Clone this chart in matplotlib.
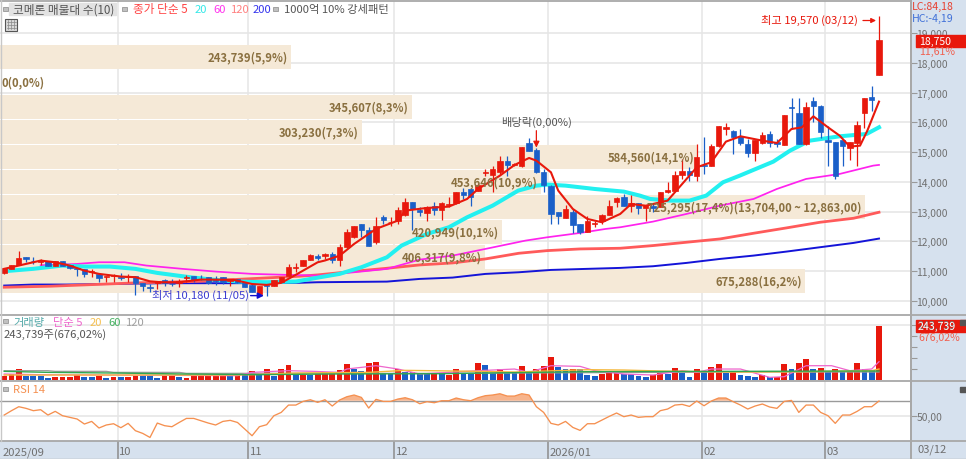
import matplotlib
matplotlib.use('Agg')
import numpy as np
import matplotlib.pyplot as plt
from matplotlib.patches import Rectangle

plt.rcParams['font.family'] = ['Noto Sans CJK KR', 'DejaVu Sans']

W, H = 966, 460

#### candles
opens = [10930,11080,11220,11470,11350,11300,11330,11190,11340,11200,
         11110,11070,10970,10910,10810,10850,10790,10810,10830,10610,
         10460,10620,10720,10580,10600,10770,10830,10750,10820,10700,
         10810,10670,10740,10590,10550,10220,10530,10500,10650,10850,
         11100,11170,11380,11500,11520,11580,11360,11800,12140,12590,
         12400,11970,12810,12640,12700,12890,13320,13040,12960,13180,
         13070,13230,13290,13650,13760,13710,14300,14230,14320,14700,
         14570,14520,15310,15080,14340,13870,12980,12800,12980,12590,
         12330,12590,12700,12890,13320,13480,13190,13280,13120,13200,
         13150,13650,13710,14240,14370,14210,14580,14550,15220,15790,
         15720,15530,15270,14960,15310,15610,15330,15240,16530,16330,
         15260,16700,16560,15390,15330,15410,15150,15310,16310,16850,
         17590]
highs = [11110,11220,11690,11470,11470,11410,11340,11340,11350,11200,
         11110,11070,11060,10910,10850,10910,10950,10910,10830,10610,
         10580,10670,10730,10740,10740,10880,10840,10860,10820,10830,
         10810,10710,10750,10600,10560,10520,10540,10690,10800,11250,
         11270,11380,11580,11580,11600,11630,11920,12420,12530,12600,
         12480,12810,12890,12810,13150,13450,13340,13150,13200,13340,
         13340,13480,13670,13790,13780,13960,14430,14520,14860,14860,
         14620,15160,15460,15130,14430,13880,13000,13220,13090,12600,
         12840,12700,12920,13400,13480,13600,13560,13290,13230,13250,
         13660,13990,14380,14770,14490,15270,15500,15270,15870,15980,
         15730,15780,15440,15390,15670,15720,15440,16250,16810,16810,
         16670,16840,16570,15890,15340,15420,15330,16030,16820,17210,
         19570]
lows = [10920,11070,11210,11300,11250,11210,11190,11190,11190,11080,
        10830,10800,10800,10650,10650,10650,10690,10650,10210,10320,
        10300,10410,10520,10500,10460,10630,10630,10690,10580,10540,
        10580,10520,10610,10470,10290,10210,10180,10490,10640,10840,
        10990,11160,11370,11360,11410,11270,11170,11790,12130,12140,
        11860,11920,12590,12530,12590,12870,12370,12870,12700,12890,
        12730,13150,13260,13440,13180,13700,14210,13650,14270,14210,
        14540,14510,15040,14300,13650,12590,12590,12790,12290,12250,
        12320,12480,12590,12880,13150,13180,12980,12920,12700,13000,
        13140,13640,13700,14100,14040,14040,14270,14540,15160,15570,
        14940,15240,14830,14710,15270,15160,15160,15230,15780,15260,
        15250,16000,15460,14550,14100,14550,14750,14550,15800,16390,
        17580]
closes = [11110,11220,11450,11410,11330,11330,11190,11340,11190,11100,
          11080,10910,11010,10760,10840,10860,10760,10830,10610,10520,
          10440,10660,10600,10570,10670,10800,10720,10740,10610,10680,
          10650,10710,10650,10470,10290,10520,10520,10690,10800,11140,
          11130,11380,11530,11450,11580,11390,11800,12310,12530,12400,
          11860,12510,12720,12660,13060,13340,13090,13000,13140,13070,
          13290,13260,13650,13560,13480,13900,14340,14430,14710,14570,
          14590,15160,15050,14340,13880,12920,12870,13090,12550,12330,
          12670,12610,12900,13180,13470,13180,13290,13110,13230,13130,
          13660,13740,14240,14360,14240,14820,14550,15220,15870,15830,
          15520,15310,14960,15390,15580,15310,15260,16230,16470,15260,
          16500,16540,15670,15350,14210,15190,15330,15910,16820,16760,
          18750]

#### moving averages, (candle, price) read at a few places
ma5_x = [0,2,5,7,9,11,13,16,18,20,21.5,24,27,31.5,34,36,38,40,43,44,46,48,49,51,54,55,58,61,
         63.5,65,68,70,72,73,75,76,78,80,82,84.5,86,88,91,93,95,97,99,101,104,106,108,109.4,
         111,113,114.6,116,117.4,118.4,120]
ma5_y = [11080,11190,11357,11300,11190,11020,10910,10820,10800,10660,10630,10630,10720,10710,
         10570,10540,10610,10880,11300,11360,11520,11916,12084,12420,12700,13035,13125,13170,
         13427,13762,14210,14568,14803,14714,14322,13707,13091,12755,12644,12923,13259,13200,
         13371,13930,14490,14660,15352,15531,15385,15307,15777,15830,16202,15833,15553,15184,
         15217,15721,16695]
ma20_x = [0,4,8,11,14.5,18,21,25.5,29,32,36,40,43.3,46,49,52.5,54.5,58,61,63.5,67,70.5,73,
          74.5,77,81,85,87.2,88.6,91.3,94,96.3,98.6,100.9,105.5,107.8,110.5,114.6,118.3,120]
ma20_y = [11000,11080,11190,11156,11156,11078,10943,10798,10708,10653,10630,10653,10797,10909,
          11133,11468,11860,12252,12476,12811,13203,13707,13874,13908,13874,13762,13673,13539,
          13427,13371,13371,13539,13987,14210,14680,15050,15385,15531,15609,15833]
ma60_x = [5,10,13,16.5,19.5,24.5,29,34,39,43.3,48,52.5,57,61.5,66,71.5,74.5,79,82.5,84.5,89,
          93.6,98.2,102.8,106,110,114.6,119.2,120]
ma60_y = [11200,11245,11301,11301,11190,11078,10988,10910,10876,10853,10965,11077,11390,11524,
          11748,12028,12140,12285,12420,12476,12666,12924,13203,13427,13763,14099,14266,14546,14570]
ma120_x = [0,6.3,11,18,22,27,31.5,36,40.5,43,48,52.5,57,61.5,66,70.6,74.5,79,84.5,89,93.6,98.2,
           102.8,107.3,111.9,116.5,120]
ma120_y = [10462,10496,10540,10608,10630,10664,10720,10775,10831,10876,10998,11099,11211,11278,
           11412,11603,11692,11748,11771,11861,11973,12084,12275,12454,12644,12778,12980]
ma200_x = [0,4,8.5,15.4,22,31,40,43,52.5,57,61.5,66,70.6,75,79.7,84.5,89,93.6,98.2,102.8,107.3,
           111.9,116.5,120]
ma200_y = [10518,10552,10552,10574,10597,10597,10608,10630,10651,10741,10786,10909,10965,11043,
           11077,11111,11167,11279,11413,11525,11659,11805,11950,12096]

#### volume profile bands
band_mid = [18210,17370,16530,15690,14850,14010,13170,12330,11490,10660]
band_vol = [243739,0,345607,303230,584560,453646,725295,420949,406317,675288]
band_labels = ['243,739(5,9%)','0(0,0%)','345,607(8,3%)','303,230(7,3%)','584,560(14,1%)',
               '453,646(10,9%)','725,295(17,4%)(13,704,00 ~ 12,863,00)','420,949(10,1%)',
               '406,317(9,8%)','675,288(16,2%)']

#### volume
volume = [19700,27300,48400,19700,19700,16700,9100,15100,15100,15100,
          22700,15100,15100,16700,10600,15100,13600,15100,19700,19700,
          19700,10600,18200,16700,12100,10600,18200,16700,16700,16700,
          16700,16700,24200,27300,40900,21200,48400,18200,48400,68100,
          22700,21200,21200,33300,36300,36300,46900,72700,51500,40900,
          75700,80200,28800,27300,48400,36300,34800,27300,27300,27300,
          27300,22700,48400,27300,27300,75700,68100,30300,50000,30300,
          30300,65100,40900,51500,65100,106000,60600,48400,51500,48400,
          24200,18200,25700,30300,33300,27300,27300,19700,15100,22700,
          36300,27300,56000,33300,15100,51500,37900,60600,72700,30300,
          42400,22700,18200,15100,22700,12100,15100,71200,51500,75700,
          96900,48400,53000,34800,48400,34800,34800,75700,50000,45400,
          243739]
vol_up = [0,1,2,7,8,9,10,13,15,17,18,22,23,25,26,27,28,29,30,32,34,36,38,39,41,43,44,45,46,47,
          50,51,54,59,61,62,65,68,71,73,74,75,78,82,83,84,89,90,92,95,97,98,100,104,106,107,
          109,110,112,114,116,117,120]
vma5_x = [0,5,32,34,39,42.5,46,47,51,54,57,65,70,72,75,79,81,85,89,93,95,97,101,105,107,110,113.5,116,119,120]
vma5_y = [27300,24200,19700,34800,42400,39400,34800,50000,65100,50000,27300,42400,50000,34800,
          65100,62100,42400,27300,22700,42400,34800,50000,50000,12100,15100,65100,65100,42400,50000,83300]
vma20_x = [0,30,34,40,50,55,65,70,80,85,90,100,110,119,120]
vma20_y = [22700,22700,24200,31800,34800,43900,39400,36300,46900,45400,40900,36300,37900,42400,50000]
vma60_x = [0,6,15,25,35,45,60,66,80,100,120]
vma60_y = [39400,34800,31800,27300,24200,27300,28800,31800,37900,39400,40900]
vma120_x = [0,6,7,14,15,24,25,40,60,80,100,120]
vma120_y = [42400,42400,39400,39400,34800,34800,30300,30300,30300,33300,36300,36300]

#### RSI
rsi = [50.9,56.7,62,59.8,56.7,58,50.9,55.8,50,47.8,45.6,38.9,42.4,33.6,37.6,39.3,34,39.8,30,26.4,
       21,40.2,36.7,35.3,41,46.4,46.4,43.3,40.2,37.6,42.4,43.8,41,32.2,23.3,35.3,38,50,54.4,64.2,
       64.2,69.1,71.3,67.8,71.3,62.9,70.9,75.3,77.6,74.4,60.2,71.8,69.1,69.1,72.2,74,71.3,66,68.7,67.3,
       70,70,73.6,71.3,70,74,76.7,77.6,79.3,76.2,76.2,79.3,77.6,62,54.4,39.8,37.6,42.4,34.4,30.4,
       39.3,39.3,44.2,49.1,53.6,48.7,50.9,47.8,48.7,48.7,56.7,58.9,64.2,65.1,62.4,69.6,63.3,69.6,73.6,73.6,
       68.7,64.2,58.9,62.9,65.6,61.6,59.8,69.1,70.4,54.4,64.2,64.2,54.4,50,39.8,50.9,50.9,55.8,62,62,
       69.6]

price_ticks = [10000,11000,12000,13000,14000,15000,16000,17000,18000,19000]
month_pos = [15.57,33.48,53.5,74.55,95.68,112.6]
month_labels = ['10','11','12','2026/01','02','03']

RED = '#E8180C'
BLUE = '#1A5FC8'
PANEL = '#D6E1EE'
GRID = '#E6E6E6'
LINE = '#A8A8A8'
TICK = '#707070'
SAND = '#F5E9D7'
SAND_TXT = '#8A7040'

fig = plt.figure(figsize=(W / 100, H / 100), dpi=100, facecolor='white')


def box(x0, y0, x1, y1):
    # pixel box of the reference -> figure fractions
    return [x0 / W, 1 - y1 / H, (x1 - x0) / W, (y1 - y0) / H]


def label(x, y, s, color='#555555', size=8.1, ha='left', **kw):
    return fig.text(x / W, 1 - y / H, s, color=color, fontsize=size, ha=ha, va='center', zorder=20, **kw)


# right and bottom panels behind everything
fig.patches.append(Rectangle((911 / W, 0), 55 / W, 1, transform=fig.transFigure, color=PANEL, zorder=-5))
fig.patches.append(Rectangle((0, 0), 1, 18 / H, transform=fig.transFigure, color=PANEL, zorder=-5))

xlim = (-0.576, 124.39)
ax = fig.add_axes(box(0, 2, 911, 315))
ax_vol = fig.add_axes(box(0, 316, 911, 381))
ax_rsi = fig.add_axes(box(0, 382, 911, 441))
ax_date = fig.add_axes(box(0, 442, 911, 460))
for a in (ax, ax_vol, ax_rsi, ax_date):
    a.set_xlim(xlim)
    a.set_xticks([])
    a.set_axisbelow(True)
    for s in a.spines.values():
        s.set_visible(False)
    a.spines['right'].set_visible(True)
    a.spines['right'].set_color(LINE)
    a.spines['right'].set_linewidth(1.3)
    for m in month_pos:
        a.axvline(m, color=GRID if a is not ax_date else '#8C8C8C', lw=1.1, zorder=0.4)

# price panel
ax.set_ylim(9563, 20075)
ax.yaxis.tick_right()
ax.set_yticks(price_ticks)
ax.set_yticklabels([f'{p:,}' for p in price_ticks], color=TICK, fontsize=7.4)
ax.tick_params(axis='y', length=4, width=0.8, color='#999999', pad=0)
for p in price_ticks:
    ax.axhline(p, color=GRID, lw=1.2, zorder=0.4)

# px per candle 7.29, 838.6 shares per px in the profile
per_candle = 838.6 * 7.29
ax.barh(band_mid, np.array(band_vol) / per_candle, height=805, left=xlim[0], color=SAND, zorder=1)
for mid, v, txt in zip(band_mid, band_vol, band_labels):
    end = xlim[0] + v / per_candle
    ax.annotate(txt, (end, mid), xytext=(-3 if v else 2, 0), textcoords='offset pixels',
                ha='right' if v else 'left', va='center', color=SAND_TXT, fontsize=8.1,
                fontweight='bold', zorder=8)

ax.plot(ma200_x, ma200_y, color='#1414D8', lw=1.4, zorder=2)
ax.plot(ma120_x, ma120_y, color='#FF5A5A', lw=2.0, zorder=2.1)
ax.plot(ma60_x, ma60_y, color='#FF22EE', lw=1.25, zorder=2.2)
ax.plot(ma20_x, ma20_y, color='#22F0F0', lw=2.9, zorder=2.3)

idx = np.arange(len(closes))
o = np.array(opens)
c = np.array(closes)
up = c >= o
col = np.where(up, RED, BLUE)
ax.vlines(idx, lows, highs, colors=col, lw=0.9, zorder=3)
ax.bar(idx, np.abs(c - o), bottom=np.minimum(o, c), width=0.74, color=col, edgecolor=col, lw=0.5, zorder=3.1)
ax.plot(ma5_x, ma5_y, color=RED, lw=1.5, zorder=4)

# high / low / ex-dividend marks
label(858, 20, '최고 19,570 (03/12)', RED, ha='right')
ax.annotate('', (119.6, 19420), xytext=(117.8, 19420), zorder=7,
            arrowprops=dict(arrowstyle='-|>', color=RED, lw=0.9, mutation_scale=7, shrinkA=0, shrinkB=0))
label(152, 295, '최저 10,180 (11/05)', '#3C3CD0')
ax.annotate('', (36, 10180), xytext=(33.8, 10180), zorder=7,
            arrowprops=dict(arrowstyle='-|>', color='#1010D0', lw=1.0, mutation_scale=9, shrinkA=0, shrinkB=2))
label(501, 122, '배당락(0,00%)', '#555555')
ax.annotate('', (73, 15150), xytext=(73, 15720), zorder=7,
            arrowprops=dict(arrowstyle='-|>', color=RED, lw=0.9, mutation_scale=9, shrinkA=0, shrinkB=0))

# volume panel
ax_vol.set_ylim(0, 296000)
ax_vol.yaxis.tick_right()
ax_vol.set_yticks([50000, 100000, 150000, 200000, 250000])
ax_vol.set_yticklabels([])
ax_vol.tick_params(axis='y', length=4, width=0.8, color='#999999')
ax_vol.axhline(250000, color=GRID, lw=1.1, zorder=0.4)
vol_col = [RED if i in vol_up else BLUE for i in idx]
ax_vol.bar(idx, volume, width=0.8, color=vol_col, zorder=2)
ax_vol.plot(vma120_x, vma120_y, color='#9A9A9A', lw=0.9, zorder=3)
ax_vol.plot(vma60_x, vma60_y, color='#2FA84F', lw=1.0, zorder=3.3)
ax_vol.plot(vma20_x, vma20_y, color='#F5B83D', lw=1.0, zorder=3.2)
ax_vol.plot(vma5_x, vma5_y, color='#EE66CC', lw=0.9, zorder=3.1)

# RSI panel
ax_rsi.set_ylim(17.6, 96.3)
ax_rsi.yaxis.tick_right()
ax_rsi.set_yticks([50])
ax_rsi.set_yticklabels(['50,00'], color=TICK, fontsize=7.4)
ax_rsi.tick_params(axis='y', length=4, width=0.8, color='#999999', pad=0)
ax_rsi.axhline(70, color='#9A9A9A', lw=1.0, zorder=0.5)
ax_rsi.axhline(50, color=GRID, lw=1.2, zorder=0.4)
ax_rsi.fill_between(idx, 70, rsi, where=np.array(rsi) > 70, interpolate=True, color='#F7B48C', lw=0, zorder=1)
ax_rsi.plot(idx, rsi, color='#F59050', lw=0.95, zorder=2)

# date strip
ax_date.set_ylim(0, 1)
ax_date.set_yticks([])
ax_date.patch.set_alpha(0)
ax_date.text(xlim[0] + 0.3, 0.42, '2025/09', color=TICK, fontsize=8.1, va='center')
for m, t in zip(month_pos, month_labels):
    ax_date.text(m + 0.2, 0.42, t, color=TICK, fontsize=8.1, va='center')

# panel separators
for y in (1.5, 315.5, 381.5, 441.5):
    fig.add_artist(plt.Line2D([0, 911 / W if y == 1.5 else 1], [1 - y / H] * 2, color=LINE, lw=1.3))
fig.add_artist(plt.Line2D([0.7 / W] * 2, [18 / H, 1], color='#C8C8C8', lw=1.0))
fig.add_artist(plt.Line2D([911 / W] * 2, [0, 1], color=LINE, lw=1.3))
fig.add_artist(plt.Line2D([0, 1], [0.5 / H] * 2, color='#B0B0B0', lw=1.0))

# legend row of the price panel
fig.add_artist(Rectangle((9 / W, 1 - 16 / H), 107 / W, 12.5 / H, transform=fig.transFigure, color='#E2E2E2'))
for x, y in ((3, 7), (122, 7), (273, 7), (3, 319), (3, 387)):
    fig.add_artist(Rectangle((x / W, 1 - (y + 5) / H), 4.5 / W, 4.5 / H, transform=fig.transFigure,
                             facecolor='#C0C0C0', edgecolor='#888888', lw=0.5))
label(13, 10, '코메론 매물대 수(10)', size=8.4)
label(133, 10, '종가 단순 5', '#FF4444', size=8.4)
label(195, 10, '20', '#33E8E8')
label(213, 10, '60', '#FF33EE')
label(231, 10, '120', '#FF8080')
label(253, 10, '200', '#3333EE')
label(284, 10, '1000억 10% 강세패턴')

# small table button
fig.add_artist(Rectangle((5 / W, 1 - 31.5 / H), 12 / W, 12 / H, transform=fig.transFigure,
                         facecolor='#DADADA', edgecolor='#555555', lw=0.8))
for k in range(1, 4):
    fig.add_artist(plt.Line2D([(5 + 3 * k) / W] * 2, [1 - 30 / H, 1 - 21 / H], color='#888888', lw=0.5))
    fig.add_artist(plt.Line2D([6.5 / W, 15.5 / W], [1 - (19.5 + 3 * k) / H] * 2, color='#888888', lw=0.5))

# legends of the lower panels
label(13, 323, '거래량', '#55AAAA')
label(53, 323, '단순 5', '#EE66CC')
label(90, 323, '20', '#F5C050')
label(108, 323, '60', '#44B060')
label(126, 323, '120', '#A0A0A0')
label(4, 335, '243,739주(676,02%)', '#555555')
label(13, 390, 'RSI 14', '#F59050')

# right side boxes
label(912, 7, 'LC:84,18', '#E84030', size=7.6)
label(912, 19, 'HC:-4,19', '#4070D8', size=7.6)
fig.add_artist(Rectangle((916 / W, 1 - 47.5 / H), 50 / W, 12 / H, transform=fig.transFigure, color=RED, zorder=15))
label(919, 42, '18,750', 'white', size=7.6)
label(919, 52, '11,61%', '#F06050', size=7.6)
label(918, 326, '243,739', '#777777', size=7.6)
fig.add_artist(Rectangle((916 / W, 1 - 333 / H), 50 / W, 12 / H, transform=fig.transFigure, color=RED, zorder=15))
label(918, 327, '243,739', 'white', size=7.6)
label(918, 338, '676,02%', '#F06050', size=7.6)
for y in (321, 388):
    fig.add_artist(Rectangle((960 / W, 1 - (y + 5) / H), 6 / W, 5 / H, transform=fig.transFigure, color='#555555', zorder=16))
label(918, 450, '03/12', TICK)

fig.savefig('out.png', dpi=100)
